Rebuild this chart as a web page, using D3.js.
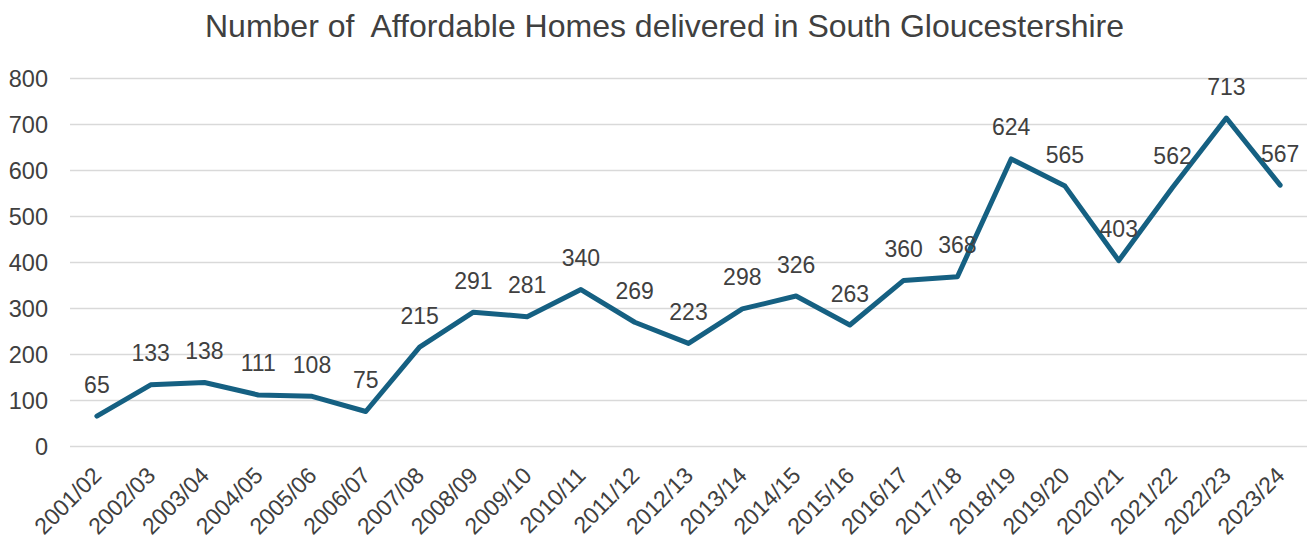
<!DOCTYPE html>
<html><head><meta charset="utf-8">
<script src="https://cdn.jsdelivr.net/npm/d3@7"></script>
<style>body{margin:0;background:#fff}svg{display:block}text{font-family:Arial,"Liberation Sans",sans-serif;fill:#404040}</style>
</head><body>
<script>
const categories = ["2001/02","2002/03","2003/04","2004/05","2005/06","2006/07","2007/08","2008/09","2009/10","2010/11","2011/12","2012/13","2013/14","2014/15","2015/16","2016/17","2017/18","2018/19","2019/20","2020/21","2021/22","2022/23","2023/24"];
const values = [65,133,138,111,108,75,215,291,281,340,269,223,298,326,263,360,368,624,565,403,562,713,567];
const yTicks = [0,100,200,300,400,500,600,700,800];
const title = "Number of  Affordable Homes delivered in South Gloucestershire";

const W = 1308, H = 538;
const svg = d3.select("body").append("svg").attr("width", W).attr("height", H);
const x = d3.scaleBand().domain(categories).range([70, 1307]);
const y = d3.scaleLinear().domain([0, 800]).range([446, 78]);

svg.append("text").attr("x", 664.5).attr("y", 37).attr("text-anchor", "middle")
  .style("font-size", "32px").style("white-space","pre").text(title);

const yAxis = svg.append("g").attr("transform", "translate(70,0)")
  .call(d3.axisLeft(y).tickValues(yTicks).tickSize(-(1307 - 70)).tickPadding(22));
yAxis.select(".domain").remove();
yAxis.selectAll(".tick line").attr("stroke", "#d9d9d9").attr("stroke-width", 1.5);
yAxis.selectAll(".tick text").style("font-size", "23.5px").attr("fill", "#404040").attr("dy", "0.35em");

const xAxis = svg.append("g").attr("transform", "translate(0,446)")
  .call(d3.axisBottom(x).tickSize(0).tickPadding(0));
xAxis.select(".domain").remove();
xAxis.selectAll(".tick text").style("font-size", "23px").attr("fill", "#404040")
  .attr("text-anchor", "end").attr("dy", 0).attr("y", 0)
  .attr("transform", "translate(6,31) rotate(-45)");

const cx = d => x(d) + x.bandwidth() / 2;
const line = d3.line().x((d, i) => cx(categories[i])).y(d => y(d));
svg.append("path").datum(values).attr("d", line).attr("fill", "none")
  .attr("stroke", "#156082").attr("stroke-width", 5).attr("stroke-linejoin", "round").attr("stroke-linecap", "round");

svg.append("g").selectAll("text").data(values).join("text")
  .attr("x", (d, i) => cx(categories[i])).attr("y", d => y(d) - 23.5)
  .attr("text-anchor", "middle").style("font-size", "23px").text(d => d);
</script>
</body></html>
